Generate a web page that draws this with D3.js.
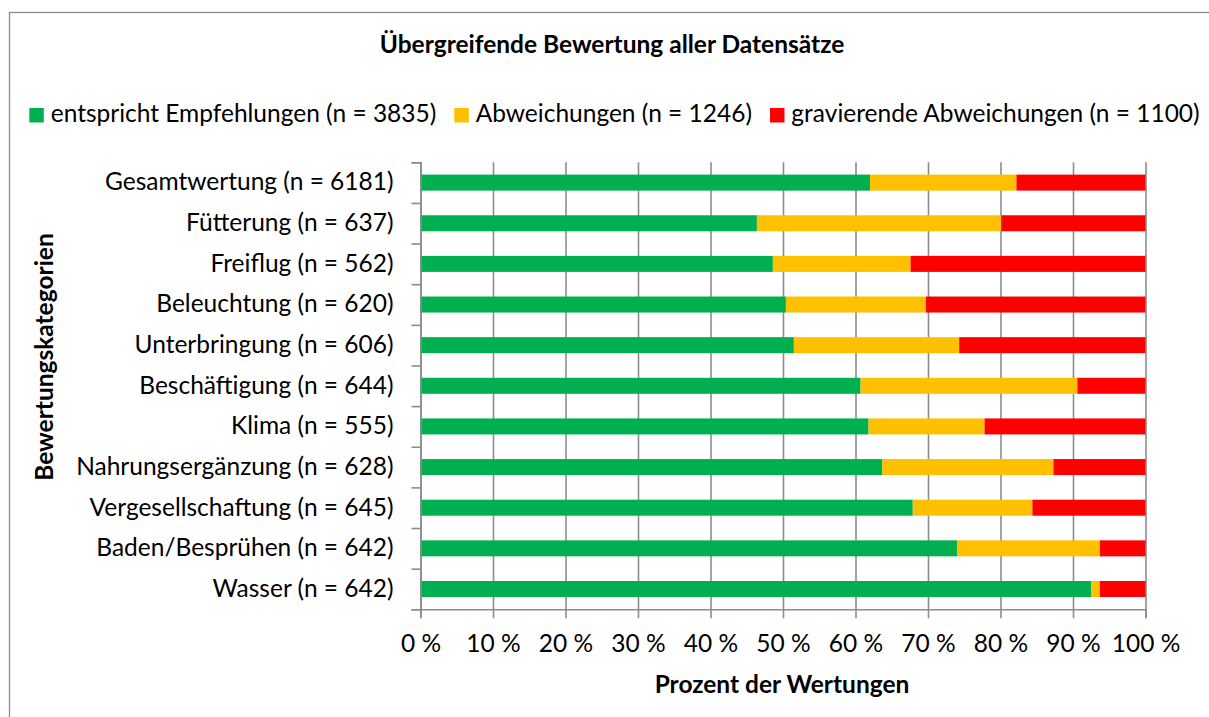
<!DOCTYPE html>
<html>
<head>
<meta charset="utf-8">
<script src="https://cdn.jsdelivr.net/npm/d3@7"></script>
<style>
  body { margin: 0; background: #fff; }
  text { font-family: Lato, "Open Sans", sans-serif; fill: #000; }
</style>
</head>
<body>
<script>
// categories, top to bottom
var categories = ["Gesamtwertung (n = 6181)", "Fütterung (n = 637)", "Freiflug (n = 562)",
  "Beleuchtung (n = 620)", "Unterbringung (n = 606)", "Beschäftigung (n = 644)",
  "Klima (n = 555)", "Nahrungsergänzung (n = 628)", "Vergesellschaftung (n = 645)",
  "Baden/Besprühen (n = 642)", "Wasser (n = 642)"];

// percent per category
var empfehlungen = [62.0, 46.4, 48.6, 50.4, 51.5, 60.7, 61.8, 63.7, 67.9, 74.0, 92.5];
var abweichungen = [20.2, 33.7, 19.0, 19.3, 22.8, 29.9, 16.0, 23.6, 16.5, 19.7, 1.2];
var gravierend   = [17.8, 19.9, 32.4, 30.3, 25.7, 9.4, 22.2, 12.7, 15.6, 6.3, 6.3];

var seriesNames = ["entspricht Empfehlungen (n = 3835)", "Abweichungen (n = 1246)", "gravierende Abweichungen (n = 1100)"];
var seriesColors = ["#00B050", "#FFC000", "#FF0000"];
var xTicks = [0, 10, 20, 30, 40, 50, 60, 70, 80, 90, 100];

var width = 1209, height = 717;
var plot = {left: 420.5, right: 1145.5, top: 162.3, bottom: 609.3};
var fs = 24.5;

var svg = d3.select("body").append("svg")
            .attr("width", width)
            .attr("height", height);

// outer frame
svg.append("rect")
   .attr("x", 9.5).attr("y", 12.5)
   .attr("width", 1220).attr("height", 720)
   .attr("fill", "none")
   .attr("stroke", "#8c8c8c")
   .attr("stroke-width", 1.3);

var table = categories.map(function(c, i) {
  return {cat: c, a: empfehlungen[i], b: abweichungen[i], c: gravierend[i]};
});
var stacked = d3.stack().keys(["a", "b", "c"])(table);

var xScale = d3.scaleLinear().domain([0, 100]).range([plot.left, plot.right]);
var yScale = d3.scaleBand().domain(categories)
               .range([plot.top, plot.bottom])
               .paddingInner(0.606).paddingOuter(0.303);
var yIndex = d3.scaleLinear().domain([0, categories.length]).range([plot.top, plot.bottom]);

// gridlines
var grid = svg.append("g")
   .attr("transform", `translate(0, ${plot.bottom})`)
   .call(d3.axisBottom(xScale).tickValues(xTicks).tickSize(-(plot.bottom - plot.top)).tickFormat(""));
grid.select(".domain").remove();
grid.selectAll("line").attr("stroke", "#8c8c8c").attr("stroke-width", 1.6);

// bars
svg.append("g").selectAll("g")
   .data(stacked)
   .join("g")
   .attr("fill", function(d, i) { return seriesColors[i]; })
   .selectAll("rect")
   .data(function(d) { return d; })
   .join("rect")
   .attr("x", function(d) { return xScale(d[0]); })
   .attr("width", function(d) { return xScale(d[1]) - xScale(d[0]); })
   .attr("y", function(d) { return yScale(d.data.cat); })
   .attr("height", yScale.bandwidth());

// X axis
var xAxis = svg.append("g")
   .attr("transform", `translate(0, ${plot.bottom})`)
   .call(d3.axisBottom(xScale).tickValues(xTicks).tickSize(9)
           .tickFormat(function(d) { return d + " %"; }));
xAxis.selectAll("line, .domain").attr("stroke", "#8c8c8c").attr("stroke-width", 1.6);
xAxis.selectAll("text")
     .attr("y", 43).attr("dy", null)
     .attr("font-size", fs).attr("font-family", "Lato");

// Y axis ticks between categories
var yTicks = svg.append("g")
   .attr("transform", `translate(${plot.left}, 0)`)
   .call(d3.axisLeft(yIndex).tickValues(d3.range(categories.length + 1)).tickSize(9).tickFormat(""));
yTicks.selectAll("line, .domain").attr("stroke", "#8c8c8c").attr("stroke-width", 1.6);

// Y labels
var yLabels = svg.append("g")
   .attr("transform", `translate(${plot.left}, 0)`)
   .call(d3.axisLeft(yScale).tickSize(0).tickPadding(27));
yLabels.select(".domain").remove();
yLabels.selectAll("text").attr("font-size", fs).attr("font-family", "Lato");

// title
svg.append("text")
   .attr("x", 612).attr("y", 53)
   .attr("text-anchor", "middle")
   .attr("font-size", fs).attr("font-weight", "bold")
   .text("Übergreifende Bewertung aller Datensätze");

// legend, laid out left to right
var lx = 29.3;
seriesNames.forEach(function(name, i) {
  var g = svg.append("g").attr("transform", `translate(${lx}, 115)`);
  g.append("rect")
   .attr("x", 0).attr("y", -7)
   .attr("width", 14.5).attr("height", 14.5)
   .attr("fill", seriesColors[i]);
  var t = g.append("text")
   .attr("x", 21.4).attr("y", 7)
   .attr("font-size", fs)
   .text(name);
  lx += 21.4 + t.node().getComputedTextLength() + 18;
});

// axis titles
svg.append("text")
   .attr("x", 782).attr("y", 693)
   .attr("text-anchor", "middle")
   .attr("font-size", fs).attr("font-weight", "bold")
   .text("Prozent der Wertungen");

svg.append("text")
   .attr("transform", "translate(53, 357) rotate(-90)")
   .attr("text-anchor", "middle")
   .attr("font-size", fs).attr("font-weight", "bold")
   .text("Bewertungskategorien");
</script>
</body>
</html>
